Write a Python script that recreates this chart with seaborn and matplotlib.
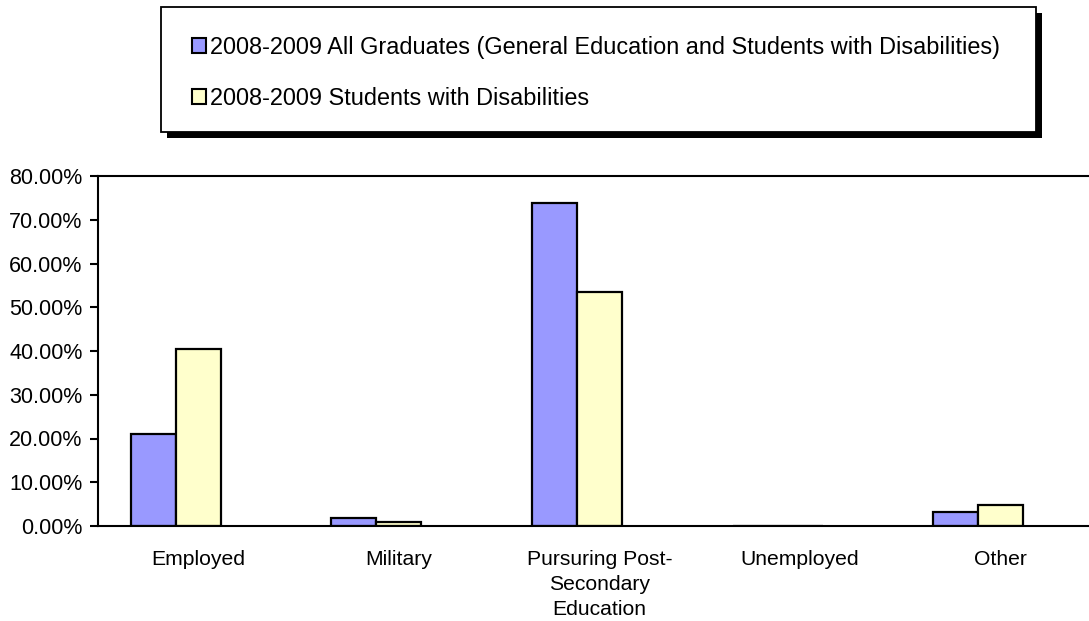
import seaborn as sns
import matplotlib.pyplot as plt
import matplotlib.patches as mpatches
import matplotlib.ticker as mticker
import pandas as pd

OUTPUT_FILE_NAME = "out.png"

# data (percent)
categories = ["Employed", "Military", "Pursuring Post-\nSecondary\nEducation", "Unemployed", "Other"]
all_graduates = [21.0, 1.8, 73.8, 0.0, 3.3]
students_disab = [40.5, 0.9, 53.6, 0.0, 4.8]
series_names = [
    "2008-2009 All Graduates (General Education and Students with Disabilities)",
    "2008-2009 Students with Disabilities",
]
colors = ["#9999FF", "#FFFFCC"]

W, H = 1089, 621


def fx(px):
    return px / W


def fy(py):
    return 1 - py / H


if __name__ == "__main__":
    rows = []
    for name, vals in zip(series_names, [all_graduates, students_disab]):
        for cat, v in zip(categories, vals):
            rows.append({"category": cat, "value": v, "series": name})
    data = pd.DataFrame(rows)

    sns.set_style("white")
    plt.rcParams["font.family"] = ["Liberation Sans", "DejaVu Sans"]
    plt.rcParams["text.color"] = "black"

    fig = plt.figure(figsize=(W / 100, H / 100), dpi=100)
    ax = fig.add_axes([fx(98), fy(526), fx(1089 - 98), 350 / H])

    # third (empty) slot keeps the excel-style offset of the two bars
    sns.barplot(data=data, x="category", y="value", hue="series", order=categories,
                hue_order=series_names + ["blank"], palette=colors + ["white"],
                saturation=1, width=0.673, edgecolor="black", linewidth=1.6,
                legend=False, ax=ax)

    ax.set_ylim(0, 80)
    ax.set_xlim(-0.5, -0.5 + (1089 - 98) / 200.6)
    ax.set_yticks(range(0, 81, 10))
    ax.yaxis.set_major_formatter(mticker.PercentFormatter(100, decimals=2))
    ax.set_xlabel("")
    ax.set_ylabel("")
    for side in ["left", "bottom", "top"]:
        ax.spines[side].set_visible(True)
        ax.spines[side].set_color("black")
        ax.spines[side].set_linewidth(1.5)
    ax.spines["right"].set_visible(False)
    ax.tick_params(axis="y", left=True, direction="out", length=6, width=1.5,
                   pad=5, labelsize=15.5, colors="black")
    ax.tick_params(axis="x", bottom=False, pad=13.5, labelsize=15.2, colors="black")
    for lbl in ax.get_xticklabels():
        lbl.set_linespacing(1.42)

    # legend box with hard shadow
    fig.add_artist(mpatches.Rectangle((fx(167), fy(138)), fx(1042 - 167), (138 - 13) / H,
                                      transform=fig.transFigure, facecolor="black",
                                      edgecolor="none"))
    fig.add_artist(mpatches.Rectangle((fx(161), fy(132)), fx(1036 - 161), (132 - 7) / H,
                                      transform=fig.transFigure, facecolor="white",
                                      edgecolor="black", linewidth=1.3))
    handles = [mpatches.Patch(facecolor=c, edgecolor="black", linewidth=1.5) for c in colors]
    fig.legend(handles, series_names, loc="center left", bbox_to_anchor=(fx(192), fy(73)),
               frameon=False, fontsize=16.9, labelcolor="black", handlelength=0.6,
               handleheight=0.6, handletextpad=0.15, labelspacing=1.2, borderpad=0,
               borderaxespad=0)

    plt.savefig(OUTPUT_FILE_NAME, dpi=100)
